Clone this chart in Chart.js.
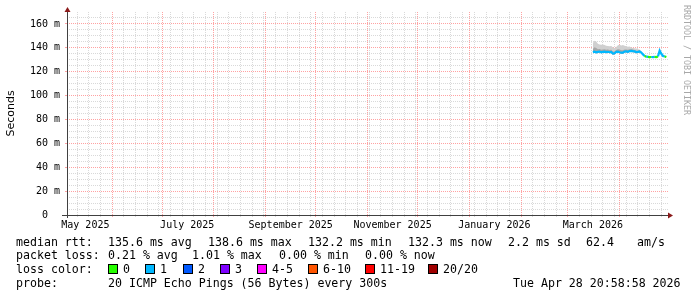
<!DOCTYPE html>
<html>
<head>
<meta charset="utf-8">
<script src="https://cdn.jsdelivr.net/npm/chart.js@4.4.1/dist/chart.umd.min.js"></script>
<style>
body { margin: 0; background: #fff; }
#wrap { position: relative; width: 697px; height: 297px; overflow: hidden; background: #fff; }
#wrap canvas { position: absolute; left: 0; top: 0; }
.leg { position: absolute; font-family: 'DejaVu Sans Mono', monospace; font-size: 11.6px; line-height: 14px; white-space: pre; color: #000; }
.sw { position: absolute; width: 8px; height: 8px; border: 1px solid #000; }
#mark { position: absolute; left: 682px; top: 5px; writing-mode: vertical-rl; font-family: 'DejaVu Sans Mono', monospace; font-size: 8.3px; line-height: 10px; color: #a8a8a8; white-space: pre; }
</style>
</head>
<body>
<div id="wrap">
  <canvas id="chart" width="697" height="297"></canvas>
  <div id="mark">RRDTOOL / TOBI OETIKER</div>
</div>
<script>
// days counted from 2025-05-05 (left edge of the graph), 360 days shown
var days = [315, 316, 317, 318, 319, 320, 321, 322, 323, 324, 325, 326, 327, 328, 329,
            330, 331, 332, 333, 334, 335, 336, 337, 338, 339, 340, 341, 342, 343, 344,
            345, 346, 347, 348, 349, 350, 351, 352, 353, 354, 355, 356, 357, 358, 359];

// median rtt in ms
var median = [136.4, 136.8, 136.3, 136.6, 136.9, 136.3, 136.6, 136.8, 136.4, 136.7, 136.3, 136.5, 135.2, 135.4, 136.6,
              136.8, 136.3, 135.9, 136.0, 136.9, 137.0, 136.7, 137.3, 137.5, 137.2, 137.0, 136.4, 136.6, 137.0, 136.0,
              134.5, 133.2, 132.6, 132.4, 132.2, 132.3, 132.2, 132.4, 132.3, 132.8, 137.6, 135.0, 133.2, 132.8, 132.3];

// smoke (spread of the 20 pings)
var smokeLo = [135.5, 135.9, 135.4, 135.7, 136.0, 135.4, 135.7, 135.9, 135.5, 135.8, 135.4, 135.6, 134.3, 134.5, 135.7,
               135.9, 135.4, 135.0, 135.1, 136.0, 136.1, 135.8, 136.4, 136.6, 136.3, 136.1, 135.5, 135.7, 136.1, 135.3,
               134.0, 132.7, 132.1, 131.9, 131.7, 131.8, 131.7, 131.9, 131.8, 132.3, 136.9, 134.4, 132.7, 132.3, 131.8];
var smokeMid = [139.0, 140.5, 139.8, 138.8, 139.0, 138.4, 138.6, 138.8, 138.3, 138.5, 138.2, 138.3, 136.8, 136.9, 138.2,
                138.8, 138.6, 137.9, 137.9, 138.6, 138.6, 138.3, 138.8, 138.8, 138.5, 138.2, 137.6, 137.7, 137.9, 136.7,
                134.9, 133.6, 133.0, 132.8, 132.6, 132.7, 132.6, 132.8, 132.7, 133.2, 138.0, 135.5, 133.6, 133.2, 132.7];
var smokeHi = [144.0, 146.0, 145.2, 143.4, 142.8, 142.6, 142.8, 142.3, 141.8, 141.6, 141.4, 141.5, 140.4, 139.6, 140.6,
               142.2, 142.6, 142.0, 142.3, 141.8, 141.3, 141.0, 141.2, 140.2, 139.9, 139.6, 139.4, 138.8, 138.5, 137.2,
               135.3, 134.0, 133.3, 133.1, 132.9, 133.0, 132.9, 133.1, 133.0, 133.6, 138.4, 135.9, 134.0, 133.5, 133.0];

// lost pings out of 20
var loss = [1, 1, 1, 1, 1, 1, 1, 1, 1, 1, 1, 1, 1, 1, 1,
            1, 1, 1, 1, 1, 1, 1, 1, 1, 1, 1, 1, 1, 1, 1,
            1, 1, 0, 1, 0, 0, 1, 1, 0, 0, 1, 1, 1, 1, 0];

var monthStarts = [27, 57, 88, 119, 149, 180, 210, 241, 272, 300, 331];
var labelDays = [11, 72, 134, 195, 256, 315];
var monthLabels = ['May 2025', 'July 2025', 'September 2025', 'November 2025', 'January 2026', 'March 2026'];
var firstSunday = 6;

var rttStats = ['135.6 ms avg', '138.6 ms max', '132.2 ms min', '132.3 ms now', '2.2 ms sd', '62.4', 'am/s'];
var rttX = [108, 208, 308, 408, 508, 586, 637];
var lossStats = ['0.21 % avg', '1.01 % max', '0.00 % min', '0.00 % now'];
var lossX = [108, 192, 279, 365];
var lossLabels = ['0', '1', '2', '3', '4-5', '6-10', '11-19', '20/20'];
var lossColors = ['#26ff00', '#00b8ff', '#0059ff', '#7e00ff', '#ff00ff', '#ff5500', '#ff0000', '#a00000'];
var swatchX = [108, 145, 183, 220, 257, 308, 365, 428];
var rowY = [241.7, 255.3, 269.3, 282.7];

var MONO = "'DejaVu Sans Mono', monospace";

function lossColor(n) {
    if (n >= 20) return lossColors[7];
    if (n >= 11) return lossColors[6];
    if (n >= 6) return lossColors[5];
    if (n >= 4) return lossColors[4];
    return lossColors[n];
}

function pts(arr) {
    return days.map((d, i) => ({ x: d, y: arr[i] }));
}

// grid positions (weekly minor, monthly major)
var xGrid = [];
for (let d = firstSunday; d < 360; d += 7) {
    if (monthStarts.indexOf(d) < 0) xGrid.push(d);
}
xGrid = xGrid.concat(monthStarts).sort((a, b) => a - b);

var yGrid = [];
for (let v = 0; v < 170; v += 5) yGrid.push(v);

var MINOR = 'rgba(170,170,170,0.45)';
var MAJOR = 'rgba(255,100,100,0.6)';

function isMonth(v) {
    return monthStarts.indexOf(Math.round(v)) >= 0;
}
function isMajorY(v) {
    return Math.round(v) % 20 === 0;
}

const axisPlugin = {
    id: 'rrdAxes',
    afterDraw(chart) {
        const ctx = chart.ctx;
        const a = chart.chartArea;
        ctx.save();
        ctx.strokeStyle = '#404040';
        ctx.lineWidth = 1;
        ctx.beginPath();
        ctx.moveTo(a.left + 0.5, a.bottom + 3);
        ctx.lineTo(a.left + 0.5, a.top);
        ctx.moveTo(a.left - 5, a.bottom + 0.5);
        ctx.lineTo(a.right, a.bottom + 0.5);
        ctx.stroke();
        ctx.fillStyle = '#8b1a1a';
        ctx.beginPath();
        ctx.moveTo(a.left + 0.5, a.top - 5);
        ctx.lineTo(a.left - 2.5, a.top);
        ctx.lineTo(a.left + 3.5, a.top);
        ctx.closePath();
        ctx.fill();
        ctx.beginPath();
        ctx.moveTo(a.right + 5, a.bottom + 0.5);
        ctx.lineTo(a.right, a.bottom - 2.5);
        ctx.lineTo(a.right, a.bottom + 3.5);
        ctx.closePath();
        ctx.fill();
        ctx.restore();
    }
};

var clear = 'rgba(0,0,0,0)';

new Chart(document.getElementById('chart'), {
    type: 'line',
    data: {
        datasets: [
            { data: pts(smokeLo), borderColor: clear, borderWidth: 0, pointRadius: 0, fill: false, order: 3 },
            { data: pts(smokeHi), borderColor: clear, borderWidth: 0, pointRadius: 0, fill: 0, backgroundColor: '#d0d0d0', order: 2 },
            { data: pts(smokeMid), borderColor: clear, borderWidth: 0, pointRadius: 0, fill: 0, backgroundColor: '#a6a6a6', order: 1 },
            {
                data: pts(median), borderWidth: 2.2, pointRadius: 0, fill: false, order: 0,
                borderColor: lossColors[1],
                segment: { borderColor: c => lossColor(loss[c.p1DataIndex]) }
            }
        ]
    },
    options: {
        responsive: false,
        animation: false,
        layout: { padding: { left: 0, right: 29, top: 12, bottom: 62 } },
        plugins: { legend: { display: false }, tooltip: { enabled: false } },
        elements: { line: { tension: 0 } },
        scales: {
            x: {
                type: 'linear', min: 0, max: 360,
                afterFit: s => { s.height = 0; },
                afterBuildTicks: s => { s.ticks = xGrid.map(v => ({ value: v })); },
                grid: {
                    color: c => isMonth(c.tick.value) ? MAJOR : MINOR,
                    tickColor: c => isMonth(c.tick.value) ? MAJOR : MINOR,
                    tickLength: 2
                },
                border: { display: false, dash: [1, 1] },
                ticks: { display: false }
            },
            x2: {
                type: 'linear', position: 'bottom', min: 0, max: 360,
                afterFit: s => { s.height = 20; },
                afterBuildTicks: s => { s.ticks = labelDays.map(v => ({ value: v })); },
                grid: { display: false, drawTicks: false },
                border: { display: false },
                ticks: {
                    autoSkip: false, maxRotation: 0, padding: 4, color: '#000',
                    font: { family: MONO, size: 10 },
                    callback: (v, i) => monthLabels[i]
                }
            },
            y: {
                min: 0, max: 170,
                afterFit: s => { s.width = 67; },
                afterBuildTicks: s => { s.ticks = yGrid.map(v => ({ value: v })); },
                grid: {
                    color: c => c.tick.value === 0 ? clear : (isMajorY(c.tick.value) ? MAJOR : MINOR),
                    tickColor: c => isMajorY(c.tick.value) ? MAJOR : clear,
                    tickLength: 2
                },
                border: { display: false, dash: [1, 1] },
                ticks: {
                    autoSkip: false, padding: 5, color: '#000',
                    font: { family: MONO, size: 10 },
                    callback: v => v % 20 !== 0 ? '' : (v === 0 ? '0  ' : v + ' m')
                },
                title: {
                    display: true, text: 'Seconds', color: '#000',
                    font: { family: "'DejaVu Sans', sans-serif", size: 11 },
                    padding: { top: 5, bottom: 0 }
                }
            }
        }
    },
    plugins: [axisPlugin]
});

// legend below the graph
var wrap = document.getElementById('wrap');
function addText(txt, x, row) {
    let el = document.createElement('div');
    el.className = 'leg';
    el.innerText = txt;
    el.style.left = x + 'px';
    el.style.top = (rowY[row] - 7) + 'px';
    wrap.appendChild(el);
}

addText('median rtt:', 16, 0);
for (let i = 0; i < rttStats.length; i++) addText(rttStats[i], rttX[i], 0);

addText('packet loss:', 16, 1);
for (let i = 0; i < lossStats.length; i++) addText(lossStats[i], lossX[i], 1);

addText('loss color:', 16, 2);
for (let i = 0; i < lossLabels.length; i++) {
    let sw = document.createElement('div');
    sw.className = 'sw';
    sw.style.background = lossColors[i];
    sw.style.left = swatchX[i] + 'px';
    sw.style.top = (rowY[2] - 5) + 'px';
    wrap.appendChild(sw);
    addText(lossLabels[i], swatchX[i] + 15, 2);
}

addText('probe:', 16, 3);
addText('20 ICMP Echo Pings (56 Bytes) every 300s', 108, 3);
addText('Tue Apr 28 20:58:58 2026', 513, 3);
</script>
</body>
</html>
